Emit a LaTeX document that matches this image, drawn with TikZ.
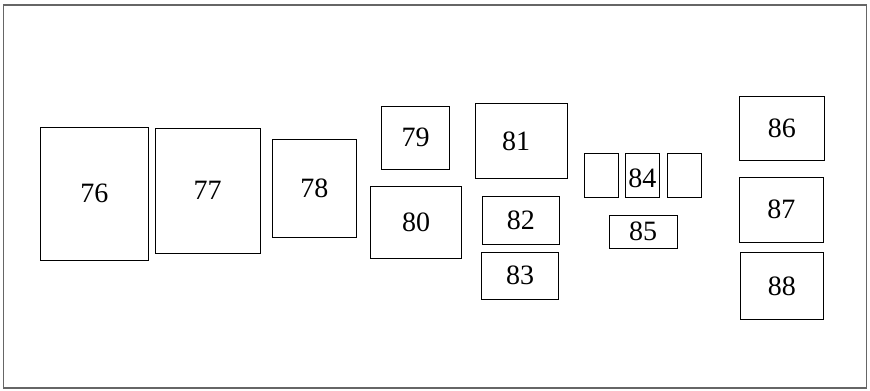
\documentclass[tikz,border=0pt]{standalone}
\usepackage{fontspec}
\setmainfont{Liberation Serif}

\begin{document}
\tikzset{every picture/.style={line width=0.75pt}}
\tikzset{num/.style={font=\fontsize{21}{24}\selectfont, inner sep=0pt}}

\begin{tikzpicture}[x=0.75pt,y=0.75pt,yscale=-1,xscale=1]
\useasboundingbox (0,0) rectangle (870,390);

%Shape: Rectangle [id:frame] 
\draw  [color={rgb, 255:red, 102; green, 102; blue, 102 }  ,line width=1.1pt]  (3.5,5) rectangle (866.5,388) ;
%Shape: Rectangle [id:r76] 
\draw   (40.7,127.3) rectangle (148,260) ;
%Shape: Rectangle [id:r77] 
\draw   (155,128.3) rectangle (260.3,253) ;
%Shape: Rectangle [id:r78] 
\draw   (272,139) rectangle (356.7,237) ;
%Shape: Rectangle [id:r79] 
\draw   (381.3,106) rectangle (449.7,169.3) ;
%Shape: Rectangle [id:r80] 
\draw   (370.3,186) rectangle (461.7,258.3) ;
%Shape: Rectangle [id:r81] 
\draw   (475.3,103.7) rectangle (567,178.7) ;
%Shape: Rectangle [id:r82] 
\draw   (482.3,196) rectangle (559.3,244.3) ;
%Shape: Rectangle [id:r83] 
\draw   (481.3,252.3) rectangle (558.7,299.3) ;
%Shape: Rectangle [id:r84a] 
\draw   (584.3,153) rectangle (618.3,197.7) ;
%Shape: Rectangle [id:r84] 
\draw   (625.3,153) rectangle (659.3,197.7) ;
%Shape: Rectangle [id:r84b] 
\draw   (667.3,153) rectangle (701.3,197.7) ;
%Shape: Rectangle [id:r85] 
\draw   (609,215.3) rectangle (677,248.3) ;
%Shape: Rectangle [id:r86] 
\draw   (739.3,96.7) rectangle (824.3,160.7) ;
%Shape: Rectangle [id:r87] 
\draw   (739.3,177.3) rectangle (823.3,242) ;
%Shape: Rectangle [id:r88] 
\draw   (740.3,252.3) rectangle (823.3,319.7) ;

% Text Node
\node [num] (t76) at (94.3,193.7) {76};
% Text Node
\node [num] (t77) at (207.6,190.6) {77};
% Text Node
\node [num] (t78) at (314.3,188) {78};
% Text Node
\node [num] (t79) at (415.5,137.7) {79};
% Text Node
\node [num] (t80) at (416,222.2) {80};
% Text Node
\node [num] (t81) at (516.2,141.2) {81};
% Text Node
\node [num] (t82) at (520.8,220.2) {82};
% Text Node
\node [num] (t83) at (520,275.8) {83};
% Text Node
\node [num] (t84) at (642.3,178) {84};
% Text Node
\node [num] (t85) at (643,231.8) {85};
% Text Node
\node [num] (t86) at (781.8,128.7) {86};
% Text Node
\node [num] (t87) at (781.3,209.7) {87};
% Text Node
\node [num] (t88) at (781.8,286) {88};

\end{tikzpicture}
\end{document}
